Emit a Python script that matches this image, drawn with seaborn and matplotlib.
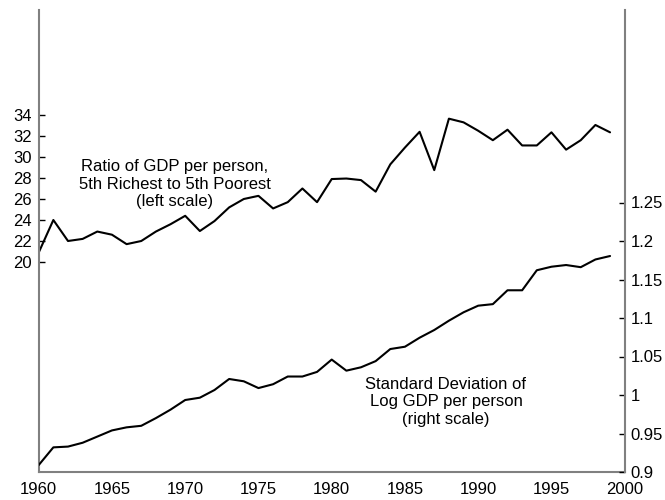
import matplotlib
matplotlib.use("Agg")
import matplotlib.pyplot as plt
import seaborn as sns
import pandas as pd
import numpy as np
from matplotlib.ticker import FuncFormatter

years = list(range(1960, 2000))
ratio = [20.9, 24.0, 22.0, 22.2, 22.9, 22.6, 21.7, 22.0, 22.9, 23.6,
         24.4, 22.95, 23.9, 25.2, 26.0, 26.3, 25.1, 25.7, 27.0, 25.7,
         27.9, 27.95, 27.8, 26.7, 29.3, 30.9, 32.4, 28.75, 33.65, 33.3,
         32.5, 31.6, 32.6, 31.1, 31.1, 32.35, 30.7, 31.6, 33.05, 32.35]
sdlog = [0.909, 0.932, 0.933, 0.938, 0.946, 0.954, 0.958, 0.960, 0.970, 0.981,
         0.9935, 0.9965, 1.0065, 1.0208, 1.0178, 1.009, 1.014, 1.024, 1.024, 1.030,
         1.046, 1.0316, 1.036, 1.044, 1.0597, 1.0627, 1.0744, 1.0844, 1.0965, 1.1074,
         1.116, 1.118, 1.136, 1.136, 1.162, 1.1666, 1.1688, 1.166, 1.176, 1.1805]
left_ticks = [20, 22, 24, 26, 28, 30, 32, 34]
right_ticks = [0.9, 0.95, 1.0, 1.05, 1.1, 1.15, 1.2, 1.25]
x_ticks = [1960, 1965, 1970, 1975, 1980, 1985, 1990, 1995, 2000]
label_left = "Ratio of GDP per person,\n5th Richest to 5th Poorest\n(left scale)"
label_right = "Standard Deviation of\nLog GDP per person\n(right scale)"

sns.set_style("white")
plt.rcParams['font.family'] = ['Liberation Sans', 'DejaVu Sans']
plt.rcParams['font.size'] = 12

df = pd.DataFrame({"year": years, "ratio": ratio, "sd": sdlog})

fig = plt.figure(figsize=(6.65, 5.0), dpi=100)
ax = fig.add_axes([0.0582, 0.056, 0.9394 - 0.0582, 0.98 - 0.056])
ax2 = ax.twinx()

sns.lineplot(data=df, x="year", y="ratio", ax=ax, color="black", linewidth=1.5)
sns.lineplot(data=df, x="year", y="sd", ax=ax2, color="black", linewidth=1.5)

ax.set_xlim(1960, 2000)
ax.set_ylim(0, 44)
ax2.set_ylim(0.9, 1.5)
ax.set_xticks(x_ticks)
ax.set_yticks(left_ticks)
ax2.set_yticks(right_ticks)
ax2.yaxis.set_major_formatter(FuncFormatter(lambda v, p: f"{v:g}"))
ax.set_xlabel("")
ax.set_ylabel("")
ax2.set_xlabel("")
ax2.set_ylabel("")

spine_col = "#808080"
for a in (ax, ax2):
    a.spines['top'].set_visible(False)
    for s in ('left', 'right', 'bottom'):
        a.spines[s].set_color(spine_col)
        a.spines[s].set_linewidth(1.5)
    a.tick_params(direction='in', length=4, width=1, color='black', labelsize=12, labelcolor='black')
ax.spines['right'].set_visible(False)
ax2.spines['left'].set_visible(False)
ax2.spines['bottom'].set_visible(False)
ax.tick_params(axis='y', pad=5)
ax.tick_params(axis='x', pad=7)
ax2.tick_params(axis='y', pad=4)

ax.text(1969.3, 27.4, label_left, ha='center', va='center', fontsize=12, color='black')
ax2.text(1987.8, 0.991, label_right, ha='center', va='center', fontsize=12, color='black')

fig.savefig("out.png", dpi=100)
